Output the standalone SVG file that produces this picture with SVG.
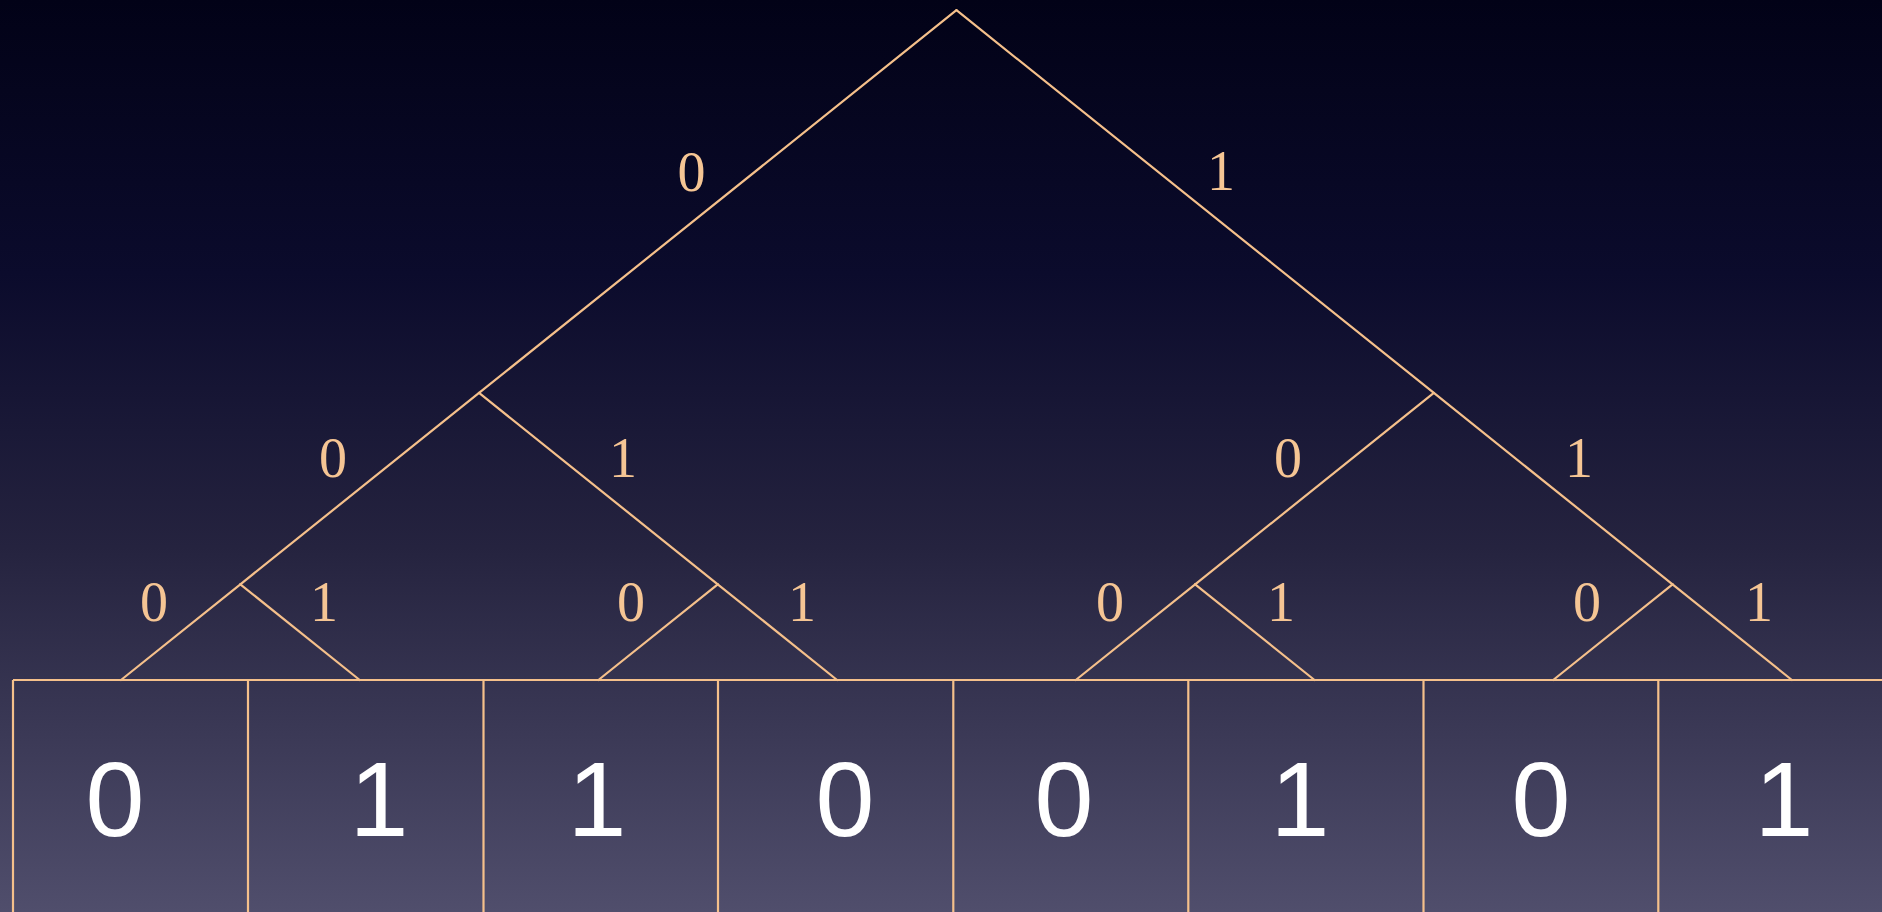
<svg xmlns="http://www.w3.org/2000/svg" width="1882" height="912" viewBox="0 0 1882 912">
<defs>
<linearGradient id="bg" x1="0" y1="0" x2="0" y2="1">
<stop offset="0" stop-color="#020217"/>
<stop offset="0.3" stop-color="#0b0b2c"/>
<stop offset="0.6" stop-color="#25233f"/>
<stop offset="1" stop-color="#504e6c"/>
</linearGradient>
<style>
.e{stroke:#f5c08b;stroke-width:2.2;fill:none;stroke-linecap:round}
.lbl{font-family:"Liberation Serif",serif;font-size:56px;fill:#f5c594;text-anchor:middle}
.bit{font-family:"Liberation Sans",Arial,sans-serif;font-size:106px;fill:#ffffff;text-anchor:middle}
.cell{stroke:#f5c08b;stroke-width:2.2;fill:none}
</style>
</defs>
<rect width="1882" height="912" fill="url(#bg)"/>
<g id="connectors">
<line class="e" x1="956.45" y1="10.2" x2="479.05" y2="392.95"/>
<line class="e" x1="956.45" y1="10.2" x2="1433.85" y2="392.95"/>
<line class="e" x1="479.05" y1="392.95" x2="240.35" y2="584.3"/>
<line class="e" x1="479.05" y1="392.95" x2="717.75" y2="584.3"/>
<line class="e" x1="1433.85" y1="392.95" x2="1195.15" y2="584.3"/>
<line class="e" x1="1433.85" y1="392.95" x2="1672.55" y2="584.3"/>
<line class="e" x1="240.35" y1="584.3" x2="121" y2="680"/>
<line class="e" x1="240.35" y1="584.3" x2="359.7" y2="680"/>
<line class="e" x1="717.75" y1="584.3" x2="598.4" y2="680"/>
<line class="e" x1="717.75" y1="584.3" x2="837.1" y2="680"/>
<line class="e" x1="1195.15" y1="584.3" x2="1075.8" y2="680"/>
<line class="e" x1="1195.15" y1="584.3" x2="1314.5" y2="680"/>
<line class="e" x1="1672.55" y1="584.3" x2="1553.2" y2="680"/>
<line class="e" x1="1672.55" y1="584.3" x2="1791.9" y2="680"/>
</g>
<g id="edge-labels">
<text class="lbl" x="691.5" y="191">0</text>
<text class="lbl" x="1221" y="190">1</text>
<text class="lbl" x="333" y="477">0</text>
<text class="lbl" x="623" y="477">1</text>
<text class="lbl" x="1288" y="477">0</text>
<text class="lbl" x="1579" y="477">1</text>
<text class="lbl" x="154" y="621">0</text>
<text class="lbl" x="324" y="621">1</text>
<text class="lbl" x="631" y="621">0</text>
<text class="lbl" x="802" y="621">1</text>
<text class="lbl" x="1110" y="621">0</text>
<text class="lbl" x="1281" y="621">1</text>
<text class="lbl" x="1587" y="621">0</text>
<text class="lbl" x="1759" y="621">1</text>
</g>
<g id="array">
<line class="cell" x1="13" y1="680" x2="1882" y2="680"/>
<g id="cell0"><line class="cell" x1="13" y1="680" x2="13" y2="912"/><text class="bit" x="115" y="836">0</text></g>
<g id="cell1"><line class="cell" x1="248" y1="680" x2="248" y2="912"/><text class="bit" x="379" y="836">1</text></g>
<g id="cell2"><line class="cell" x1="483.5" y1="680" x2="483.5" y2="912"/><text class="bit" x="597" y="836">1</text></g>
<g id="cell3"><line class="cell" x1="718" y1="680" x2="718" y2="912"/><text class="bit" x="845" y="836">0</text></g>
<g id="cell4"><line class="cell" x1="953.3" y1="680" x2="953.3" y2="912"/><text class="bit" x="1064" y="836">0</text></g>
<g id="cell5"><line class="cell" x1="1188.3" y1="680" x2="1188.3" y2="912"/><text class="bit" x="1300" y="836">1</text></g>
<g id="cell6"><line class="cell" x1="1423.5" y1="680" x2="1423.5" y2="912"/><text class="bit" x="1541" y="836">0</text></g>
<g id="cell7"><line class="cell" x1="1658.3" y1="680" x2="1658.3" y2="912"/><text class="bit" x="1784" y="836">1</text></g>
</g>
</svg>
